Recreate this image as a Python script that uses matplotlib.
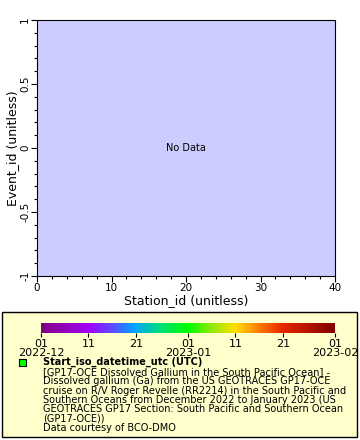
import numpy as np
import matplotlib
matplotlib.use("Agg")
import matplotlib.pyplot as plt
from matplotlib.colors import LinearSegmentedColormap
from matplotlib.patches import Rectangle
from matplotlib.ticker import MultipleLocator

plt.rcParams['font.family'] = ['DejaVu Sans']

# axis ranges (no data in the chart)
x_range = [0, 40]
y_range = [-1, 1]
x_label = "Station_id (unitless)"
y_label = "Event_id (unitless)"

# colorbar: days since 2022-12-01
cbar_days = [0, 10, 20, 31, 41, 51, 62]
cbar_labels = ["01\n2022-12", "11", "21", "01\n2023-01", "11", "21", "01\n2023-02"]
cbar_stops = [0.0, 0.16, 0.24, 0.32, 0.41, 0.5, 0.58, 0.66, 0.74, 0.82, 1.0]
cbar_colors = ["#800080", "#a000f8", "#6048ff", "#00a8ff", "#00e070", "#00ff00",
               "#90e800", "#ffe000", "#ff8000", "#e82800", "#800000"]

legend_title = "Start_iso_datetime_utc (UTC)"
legend_lines = [
    "[GP17-OCE Dissolved Gallium in the South Pacific Ocean] -",
    "Dissolved gallium (Ga) from the US GEOTRACES GP17-OCE",
    "cruise on R/V Roger Revelle (RR2214) in the South Pacific and",
    "Southern Oceans from December 2022 to January 2023 (US",
    "GEOTRACES GP17 Section: South Pacific and Southern Ocean",
    "(GP17-OCE))",
    "Data courtesy of BCO-DMO",
]

W, H = 360, 440
fig = plt.figure(figsize=(W / 100, H / 100), dpi=100)

def fx(px):
    return px / W

def fy(py):
    return 1 - py / H

# main axes
ax = fig.add_axes([fx(37), fy(276), fx(335) - fx(37), fy(20) - fy(276)])
ax.set_facecolor("#ccccff")
ax.set_xlim(x_range)
ax.set_ylim(y_range)
ax.xaxis.set_major_locator(MultipleLocator(10))
ax.xaxis.set_minor_locator(MultipleLocator(2))
ax.yaxis.set_major_locator(MultipleLocator(0.5))
ax.yaxis.set_minor_locator(MultipleLocator(0.1))
ax.set_yticks([-1, -0.5, 0, 0.5, 1])
ax.set_yticklabels(["-1", "-0.5", "0", "0.5", "1"], rotation=90, va="center")
ax.tick_params(which="major", length=4, width=0.8, labelsize=7.5, pad=1)
ax.tick_params(which="minor", length=2.5, width=0.8)
ax.set_xlabel(x_label, fontsize=9, labelpad=1)
ax.set_ylabel(y_label, fontsize=9, labelpad=1)
ax.text(0.5, 0.5, "No Data", transform=ax.transAxes, ha="center", va="center", fontsize=7)

# legend box
fig.patches.append(Rectangle((fx(2), fy(437)), fx(357) - fx(2), fy(312) - fy(437),
                             transform=fig.transFigure, facecolor="#ffffcc",
                             edgecolor="black", linewidth=1, zorder=-1))

# colorbar
cmap = LinearSegmentedColormap.from_list("erddap_rainbow", list(zip(cbar_stops, cbar_colors)))
cax = fig.add_axes([fx(41), fy(333), fx(335) - fx(41), fy(323) - fy(333)])
cax.set_zorder(2)
grad = np.linspace(cbar_days[0], cbar_days[-1], 256).reshape(1, -1)
cax.imshow(grad, aspect="auto", cmap=cmap,
           extent=[cbar_days[0], cbar_days[-1], 0, 1])
cax.set_yticks([])
cax.set_xticks(cbar_days)
cax.set_xticklabels(cbar_labels, fontsize=8, linespacing=0.95)
cax.tick_params(axis="x", length=3, width=0.8, pad=1)
for s in cax.spines.values():
    s.set_visible(False)

# legend entry
fig.patches.append(Rectangle((fx(19), fy(366)), fx(7), fy(0) - fy(7),
                             transform=fig.transFigure, facecolor="#00ff00",
                             edgecolor="black", linewidth=0.8, zorder=3))
fig.text(fx(43), fy(362), legend_title, fontsize=7, fontweight="bold",
         ha="left", va="center")
fig.text(fx(43), fy(367), "\n".join(legend_lines), fontsize=7,
         ha="left", va="top", linespacing=0.92)

fig.savefig("out.png", dpi=100)
